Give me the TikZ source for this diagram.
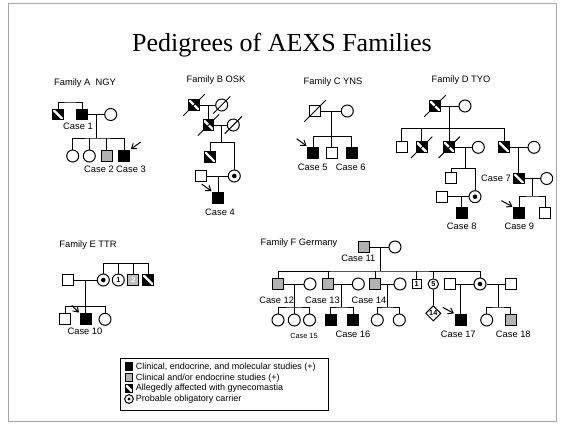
\documentclass[tikz,border=0pt]{standalone}
\usepackage{fontspec}
\setmainfont{Liberation Sans}
\newfontfamily\ttlfont{Liberation Serif}
\usetikzlibrary{shapes.geometric,arrows.meta}
\newcommand\numf{\fontsize{5.5}{6}\selectfont\bfseries}
\begin{document}
\begin{tikzpicture}[x=0.75pt,y=-0.75pt,
  ln/.style={line width=0.75pt},
  ind/.style={draw, line width=0.75pt, inner sep=0pt, fill=white},
  male/.style={ind, rectangle, minimum size=8.2pt},
  fem/.style={ind, circle, minimum size=9pt},
  aff/.style={male, fill=black},
  gaff/.style={male, fill=gray!60},
  hatch/.style={male, path picture={\fill[black] (path picture bounding box.south west) rectangle (path picture bounding box.north east); \draw[white, line width=1.8pt] (path picture bounding box.north west) -- (path picture bounding box.south east);}},
  carrier/.style={fem, path picture={\fill[black] (path picture bounding box.center) circle (1.7pt);}},
  lbl/.style={font=\fontsize{7}{8}\selectfont, inner sep=0pt},
  lgd/.style={font=\fontsize{6.75}{8}\selectfont, inner sep=0pt, anchor=west},
  pro/.style={line width=0.75pt, -{Straight Barb[length=3.5pt,width=5pt]}},
]
\useasboundingbox (0,0) rectangle (564,426);
\draw[gray!70, line width=0.5pt] (8,3) rectangle (556,421);
\node[font=\ttlfont\fontsize{19.5}{22}\selectfont, anchor=base, inner sep=0pt] (title) at (282,51) {Pedigrees of AEXS Families};

% ---------- Family A
\node[lbl] (tA) at (85,83) {Family A\ \ NGY};
\node[hatch] (A1) at (58,114.5) {};
\node[aff] (A2) at (82,114.5) {};
\node[fem] (A3) at (110.7,114.5) {};
\coordinate (Atop) at (70,102);
\draw[ln] (A1) |- (Atop) -| (A2);
\draw[ln] (A2) -- (A3);
\coordinate (Am) at (96.7,114.5); \coordinate (As) at (96.7,138);
\draw[ln] (Am) -- (As);
\node[fem] (A4) at (72.7,156) {};
\node[fem] (A5) at (89.3,156) {};
\node[gaff] (A6) at (106.7,156) {};
\node[aff] (A7) at (124,156) {};
\draw[ln] (A4) |- (As) -| (A7);
\draw[ln] (A5) -- (A5 |- As);
\draw[ln] (A6) -- (A6 |- As);
\draw[pro] ([shift={(8pt,6pt)}]A7.north east) -- ([shift={(0.6pt,0.6pt)}]A7.north east);
\node[lbl] (lA1) at (78,126) {Case 1};
\node[lbl] (lA2) at (99,169) {Case 2};
\node[lbl] (lA3) at (131,169) {Case 3};

% ---------- Family B
\node[lbl] (tB) at (216,80) {Family B OSK};
\node[hatch] (B1) at (194,105) {};
\node[fem] (B2) at (221.7,105) {};
\draw[ln] (B1) -- (B2);
\draw[ln] ([shift={(-3.5pt,-3.5pt)}]B1.south west) -- ([shift={(3.5pt,3.5pt)}]B1.north east);
\draw[ln] ([shift={(-3pt,-3pt)}]B2.south west) -- ([shift={(3pt,3pt)}]B2.north east);
\coordinate (Bm1) at (208.5,105);
\node[hatch] (B3) at (208.5,125) {};
\draw[ln] (Bm1) -- (B3);
\node[fem] (B4) at (233.3,125) {};
\draw[ln] (B3) -- (B4);
\draw[ln] ([shift={(-3.5pt,-3.5pt)}]B3.south west) -- ([shift={(3.5pt,3.5pt)}]B3.north east);
\draw[ln] ([shift={(-3pt,-3pt)}]B4.south west) -- ([shift={(3pt,3pt)}]B4.north east);
\coordinate (Bm2) at (221.7,125); \coordinate (Bs2) at (221.7,142.7);
\draw[ln] (Bm2) -- (Bs2);
\node[hatch] (B5) at (210,157) {};
\node[carrier] (B6) at (234.3,176) {};
\draw[ln] (B5) |- (Bs2) -| (B6);
\node[male] (B7) at (201,176) {};
\draw[ln] (B7) -- (B6);
\coordinate (Bm3) at (218.3,176);
\node[aff] (B8) at (218.3,198) {};
\draw[ln] (Bm3) -- (B8);
\draw[pro] ([shift={(-8pt,6pt)}]B8.north west) -- ([shift={(-0.6pt,0.6pt)}]B8.north west);
\node[lbl] (lB) at (220,212) {Case 4};

% ---------- Family C
\node[lbl] (tC) at (333,82) {Family C YNS};
\node[male] (C1) at (315,111) {};
\draw[ln] ([shift={(-3.5pt,-3.5pt)}]C1.south west) -- ([shift={(3.5pt,3.5pt)}]C1.north east);
\node[fem] (C2) at (347.3,111) {};
\draw[ln] (C1) -- (C2);
\coordinate (Cm) at (331.7,111); \coordinate (Cs) at (331.7,136.7);
\draw[ln] (Cm) -- (Cs);
\node[aff] (C3) at (313.3,152.7) {};
\node[male] (C4) at (331.7,152.7) {};
\node[aff] (C5) at (351.7,152.7) {};
\draw[ln] (C3) |- (Cs) -| (C5);
\draw[ln] (C4) -- (Cs);
\draw[pro] ([shift={(-8pt,6pt)}]C3.north west) -- ([shift={(-0.6pt,0.6pt)}]C3.north west);
\node[lbl] (lC5) at (312.7,167.3) {Case 5};
\node[lbl] (lC6) at (350.7,167.3) {Case 6};

% ---------- Family D
\node[lbl] (tD) at (461,80) {Family D TYO};
\node[hatch] (D1) at (435,106) {};
\draw[ln] ([shift={(-3.5pt,-3.5pt)}]D1.south west) -- ([shift={(3.5pt,3.5pt)}]D1.north east);
\node[fem] (D2) at (465,106) {};
\draw[ln] (D1) -- (D2);
\coordinate (Dm) at (449.3,106); \coordinate (Ds) at (449.3,128.3);
\draw[ln] (Dm) -- (Ds);
\node[male] (D3) at (401.7,147.3) {};
\node[hatch] (D4) at (421.7,147.3) {};
\node[hatch] (D5) at (449.3,147.3) {};
\node[hatch] (D6) at (504,147.3) {};
\draw[ln] (D3) |- (Ds) -| (D6);
\draw[ln] (D4) -- (D4 |- Ds);
\draw[ln] (D5) -- (Ds);
\draw[ln] ([shift={(-3.5pt,-3.5pt)}]D4.south west) -- ([shift={(3.5pt,3.5pt)}]D4.north east);
\draw[ln] ([shift={(-3.5pt,-3.5pt)}]D5.south west) -- ([shift={(3.5pt,3.5pt)}]D5.north east);
\node[fem] (D7) at (478.3,147.3) {};
\draw[ln] (D5) -- (D7);
\coordinate (Dm2) at (465,147.3); \coordinate (Ds2) at (465,168.3);
\draw[ln] (Dm2) -- (Ds2);
\node[male] (D8) at (451,178.3) {};
\node[carrier] (D9) at (475,196.7) {};
\draw[ln] (D8) |- (Ds2) -| (D9);
\node[male] (D10) at (441.7,196.7) {};
\draw[ln] (D10) -- (D9);
\coordinate (Dm3) at (461.7,196.7);
\node[aff] (D11) at (461.7,213.3) {};
\draw[ln] (Dm3) -- (D11);
\node[lbl] (lD8) at (461.7,226.7) {Case 8};
\node[fem] (D12) at (534,147.3) {};
\draw[ln] (D6) -- (D12);
\coordinate (Dm4) at (518.7,147.3);
\node[hatch] (D13) at (518.7,178.5) {};
\draw[ln] (Dm4) -- (D13);
\node[lbl, anchor=east] (lD7) at (511,178.5) {Case 7};
\node[fem] (D14) at (546.7,178.5) {};
\draw[ln] (D13) -- (D14);
\coordinate (Dm5) at (532.7,178.5); \coordinate (Ds5) at (532.7,196);
\draw[ln] (Dm5) -- (Ds5);
\node[aff] (D15) at (519.3,213.3) {};
\node[male] (D16) at (545,213.3) {};
\draw[ln] (D15) |- (Ds5) -| (D16);
\draw[pro] ([shift={(-9pt,5pt)}]D15.north west) -- ([shift={(-0.6pt,0.5pt)}]D15.north west);
\node[lbl] (lD9) at (519.3,226.7) {Case 9};

% ---------- Family E
\node[lbl] (tE) at (88,245) {Family E TTR};
\node[male] (E1) at (68.3,280) {};
\node[carrier] (E2) at (103.3,280) {};
\draw[ln] (E1) -- (E2);
\coordinate (Em) at (85.7,280); \coordinate (Es) at (85.7,306.7);
\draw[ln] (Em) -- (Es);
\node[male] (E3) at (65,319.3) {};
\node[aff] (E4) at (85.7,319.3) {};
\node[fem] (E5) at (105,319.3) {};
\draw[ln] (E3) |- (Es) -| (E5);
\draw[ln] (E4) -- (Es);
\draw[pro] ([shift={(-6pt,6pt)}]E4.north west) -- ([shift={(-0.6pt,0.6pt)}]E4.north west);
\node[lbl] (lE) at (85,331.7) {Case 10};
\node[fem, font=\numf] (E6) at (118.3,280) {1};
\node[male, fill=gray!50, font=\numf, text=white] (E7) at (133.3,280) {2};
\node[hatch] (E8) at (148.3,280) {};
\coordinate (Etop) at (125,263.3);
\draw[ln] (E2) |- (Etop) -| (E8);
\draw[ln] (E6) -- (E6 |- Etop);
\draw[ln] (E7) -- (E7 |- Etop);

% ---------- Family F
\node[lbl] (tF) at (299,243.3) {Family F Germany};
\node[gaff] (F1) at (364,247) {};
\node[fem] (F2) at (395,247) {};
\draw[ln] (F1) -- (F2);
\node[lbl] (lF11) at (358.3,258.3) {Case 11};
\coordinate (Fm) at (380,247); \coordinate (Fs) at (380,271);
\draw[ln] (Fm) -- (Fs);
\node[gaff] (F3) at (278.3,284) {};
\node[fem] (F4) at (310,284) {};
\node[gaff] (F5) at (328.3,284) {};
\node[fem] (F6) at (358.3,284) {};
\node[gaff] (F7) at (375,284) {};
\node[fem] (F8) at (400,284) {};
\node[male, minimum size=6.8pt, font=\numf] (F9) at (416.7,284) {1};
\node[fem, minimum size=7.8pt, font=\numf] (F10) at (433.3,284) {5};
\node[male] (F11) at (450,284) {};
\node[carrier] (F12) at (480,284) {};
\node[male] (F13) at (511,284) {};
\draw[ln] (F3) |- (Fs) -| (F12);
\draw[ln] (F5) -- (F5 |- Fs);
\draw[ln] (F7) -- (F7 |- Fs);
\draw[ln] (F9) -- (F9 |- Fs);
\draw[ln] (F10) -- (F10 |- Fs);
% Case 12 family
\draw[ln] (F3) -- (F4);
\coordinate (Fa) at (294.3,284); \coordinate (Fas) at (294.3,307);
\draw[ln] (Fa) -- (Fas);
\node[fem] (F14) at (278,320) {};
\node[fem] (F15) at (294.3,320) {};
\node[fem] (F16) at (309.5,320) {};
\draw[ln] (F14) |- (Fas) -| (F16);
\draw[ln] (F15) -- (Fas);
\node[lbl] (lF12) at (276.7,300) {Case 12};
\node[font=\fontsize{5.5}{6}\selectfont, inner sep=0pt] (lF15) at (304,336) {Case 15};
% Case 13 family
\draw[ln] (F5) -- (F6);
\coordinate (Fb) at (341.7,284); \coordinate (Fbs) at (341.7,307);
\draw[ln] (Fb) -- (Fbs);
\node[aff] (F17) at (330.7,320) {};
\node[aff] (F18) at (353.3,320) {};
\draw[ln] (F17) |- (Fbs) -| (F18);
\node[lbl] (lF13) at (322.5,300) {Case 13};
\node[lbl] (lF16) at (353,334) {Case 16};
% Case 14 family
\draw[ln] (F7) -- (F8);
\coordinate (Fc) at (387.3,284); \coordinate (Fcs) at (387.3,307);
\draw[ln] (Fc) -- (Fcs);
\node[fem] (F19) at (377.3,320) {};
\node[fem] (F20) at (399.3,320) {};
\draw[ln] (F19) |- (Fcs) -| (F20);
\node[lbl] (lF14) at (369,300) {Case 14};
% 14 unaffected
\node[ind, diamond, minimum size=11.5pt, font=\numf] (F21) at (433.3,313.3) {14};
\draw[ln] (F10) -- (F21);
% Case 17
\draw[ln] (F11) -- (F12);
\coordinate (Fd) at (460.7,284);
\node[aff] (F22) at (460.7,320) {};
\draw[ln] (Fd) -- (F22);
\draw[pro] ([shift={(-9pt,5pt)}]F22.north west) -- ([shift={(-0.6pt,0.5pt)}]F22.north west);
\node[lbl] (lF17) at (458.3,334) {Case 17};
% Case 18
\draw[ln] (F12) -- (F13);
\coordinate (Fe) at (498,284); \coordinate (Fes) at (498,307);
\draw[ln] (Fe) -- (Fes);
\node[fem] (F23) at (486.7,320) {};
\node[gaff] (F24) at (510.7,320) {};
\draw[ln] (F23) |- (Fes) -| (F24);
\node[lbl] (lF18) at (513.3,334) {Case 18};

% ---------- Legend
\draw[line width=0.6pt] (120,358) rectangle (328,410);
\node[aff, minimum size=5.6pt] (L1) at (129,366.7) {};
\node[lgd] (L1t) at (135.5,366.7) {Clinical, endocrine, and molecular studies (+)};
\node[gaff, minimum size=5.6pt] (L2) at (129,377.7) {};
\node[lgd] (L2t) at (135.5,377.7) {Clinical and/or endocrine studies (+)};
\node[hatch, minimum size=5.6pt] (L3) at (129,388.3) {};
\node[lgd] (L3t) at (135.5,388.3) {Allegedly affected with gynecomastia};
\node[fem, minimum size=6.5pt, path picture={\fill[black] (path picture bounding box.center) circle (1.2pt);}] (L4) at (129,399) {};
\node[lgd] (L4t) at (135.5,399) {Probable obligatory carrier};
\end{tikzpicture}
\end{document}
